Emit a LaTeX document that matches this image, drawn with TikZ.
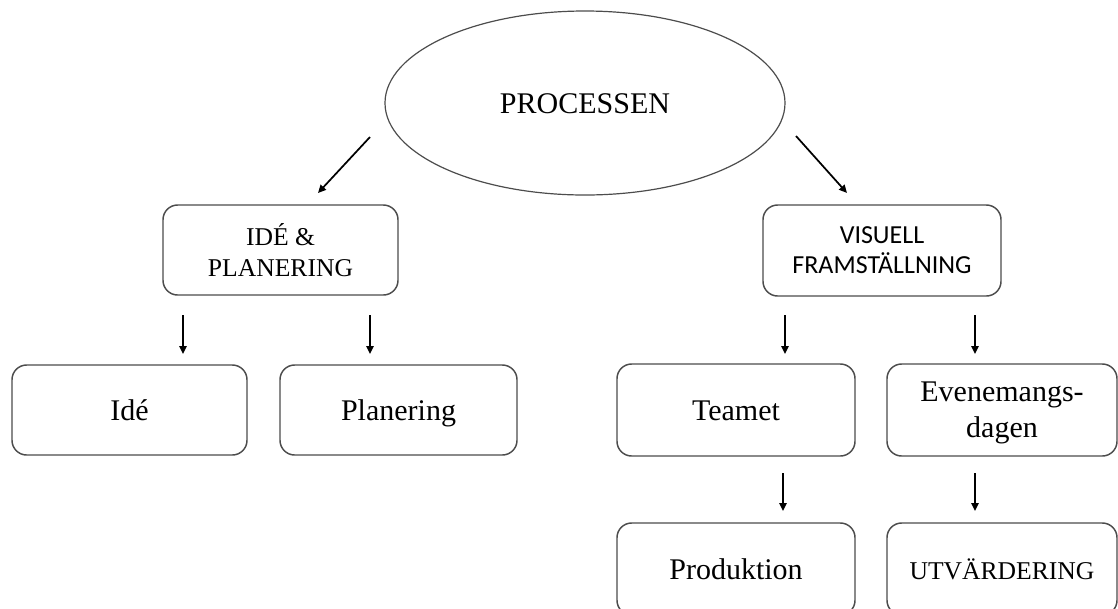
\documentclass[tikz,border=0pt]{standalone}
\usepackage{fontspec}
\setmainfont{Liberation Serif}
\newfontfamily\calibrifont{Carlito}
\usetikzlibrary{shapes.geometric,arrows.meta}
\begin{document}
\begin{tikzpicture}[x=0.75pt,y=-0.75pt,
  box/.style={draw=black!70,line width=1.1pt,rounded corners=11pt,align=center,inner sep=0pt,
    minimum height=67.5pt},
  big/.style={font=\fontsize{22.5}{27}\selectfont},
  caps/.style={font=\fontsize{19.2}{23}\selectfont},
  oneline/.style={text height=15pt,text depth=-1pt},
  arr/.style={line width=1.3pt,-{Triangle[length=6pt,width=5.5pt]}}]
\useasboundingbox (0,0) rectangle (1118,608);
\clip (0,0) rectangle (1118,608);
\node[ellipse,draw=black!70,line width=0.9pt,minimum width=300pt,minimum height=138pt,inner sep=0pt,big,oneline] (proc) at (585,103) {PROCESSEN};
\node[box,caps,minimum width=176.25pt] (ip) at (280.5,250) {IDÉ \&\\PLANERING};
\node[box,minimum width=178.5pt,minimum height=68.25pt,font=\calibrifont\fontsize{19.5}{22.5}\selectfont] (vf) at (882,250.5) {VISUELL\\FRAMSTÄLLNING};
\node[box,big,oneline,minimum width=176.25pt] (ide) at (129.5,410) {Idé};
\node[box,big,oneline,minimum width=177.75pt] (plan) at (398.5,410) {Planering};
\node[box,big,oneline,minimum width=178.5pt,minimum height=69pt] (team) at (736,410) {Teamet};
\node[box,big,minimum width=172.5pt,minimum height=69pt,text depth=-1pt] (even) at (1002,410) {Evenemangs-\\dagen};
\node[box,big,oneline,minimum width=178.5pt,minimum height=69pt] (prod) at (736,569) {Produktion};
\node[box,caps,oneline,minimum width=172.5pt,minimum height=69pt] (utv) at (1002,569) {UTVÄRDERING};
\coordinate (p1s) at (370,137); \coordinate (p1e) at (318,193);
\coordinate (p2s) at (796,136); \coordinate (p2e) at (847,193);
\coordinate (a1s) at (183,315); \coordinate (a1e) at (183,354);
\coordinate (a2s) at (370,315); \coordinate (a2e) at (370,354);
\coordinate (a3s) at (785,315); \coordinate (a3e) at (785,354);
\coordinate (a4s) at (975,315); \coordinate (a4e) at (975,354);
\coordinate (a5s) at (783,473); \coordinate (a5e) at (783,511);
\coordinate (a6s) at (975,473); \coordinate (a6e) at (975,511);
\draw[arr] (p1s) -- (p1e);
\draw[arr] (p2s) -- (p2e);
\draw[arr] (a1s) -- (a1e);
\draw[arr] (a2s) -- (a2e);
\draw[arr] (a3s) -- (a3e);
\draw[arr] (a4s) -- (a4e);
\draw[arr] (a5s) -- (a5e);
\draw[arr] (a6s) -- (a6e);
\end{tikzpicture}
\end{document}
